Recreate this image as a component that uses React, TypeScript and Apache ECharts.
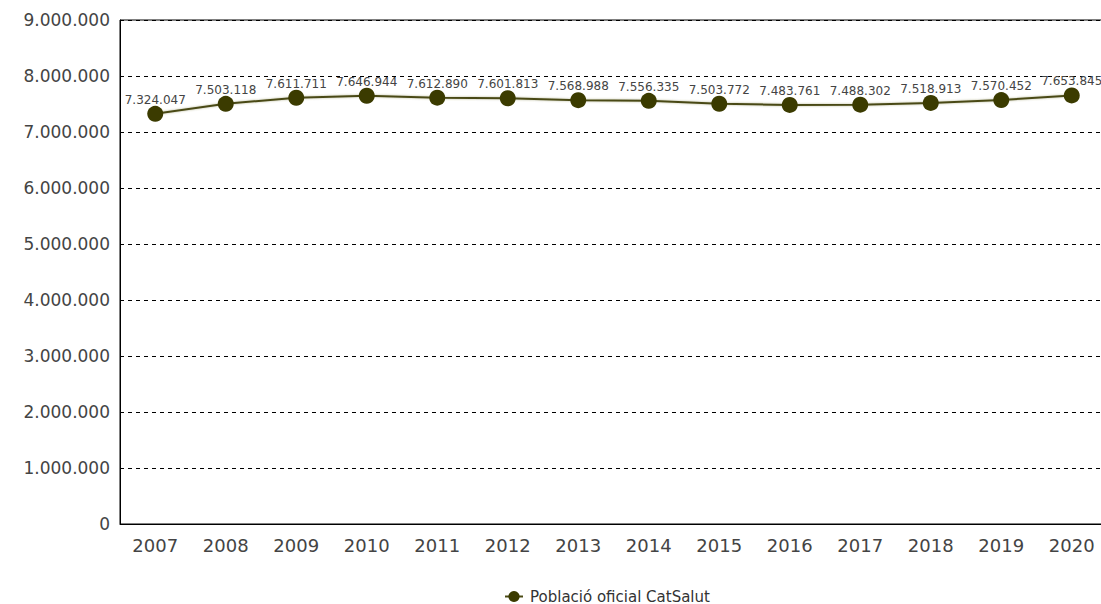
import React, { useEffect, useRef } from "react";
import * as echarts from "echarts";

const years = ["2007","2008","2009","2010","2011","2012","2013","2014","2015","2016","2017","2018","2019","2020"];
const population = [7324047, 7503118, 7611711, 7646944, 7612890, 7601813, 7568988, 7556335, 7503772, 7483761, 7488302, 7518913, 7570452, 7653845];
const seriesName = "Població oficial CatSalut";

const fmt = (v: number) => String(Math.round(v)).replace(/\B(?=(\d{3})+(?!\d))/g, ".");

export default function App() {
  const ref = useRef<HTMLDivElement>(null);
  useEffect(() => {
    if (!ref.current) return;
    const chart = echarts.init(ref.current, null, { renderer: "svg" });
    chart.setOption({
      animation: false,
      backgroundColor: "#fff",
      textStyle: { fontFamily: "DejaVu Sans" },
      grid: { left: 120, top: 20, width: 987, height: 504, show: true, borderColor: "#000", borderWidth: 1, backgroundColor: "transparent" },
      legend: {
        left: 499,
        top: 584,
        itemWidth: 18,
        itemHeight: 14,
        itemGap: 5,
        textStyle: { fontSize: 15, color: "#333", fontFamily: "DejaVu Sans", padding: [0, 0, 0, 2] },
        data: [{ name: seriesName }],
      },
      xAxis: {
        type: "category",
        data: years,
        boundaryGap: true,
        axisLine: { lineStyle: { color: "#000", width: 1 } },
        axisTick: { show: false },
        axisLabel: { fontSize: 18, color: "#444", margin: 12 },
      },
      yAxis: {
        type: "value",
        min: 0,
        max: 9000000,
        interval: 1000000,
        axisLine: { show: true, lineStyle: { color: "#000", width: 1 } },
        axisTick: { show: false },
        axisLabel: { fontSize: 17, color: "#444", margin: 10, formatter: (v: number) => fmt(v) },
        splitLine: { lineStyle: { color: "#000", type: [4, 4], width: 1 } },
      },
      series: [
        {
          name: seriesName,
          type: "line",
          data: population,
          symbol: "circle",
          symbolSize: 16,
          itemStyle: { color: "#3b3b00" },
          lineStyle: { color: "#4a4a14", width: 2, shadowColor: "rgba(120,120,60,0.5)", shadowBlur: 2 },
          label: {
            show: true,
            position: "top",
            distance: 0,
            fontSize: 12,
            color: "#444",
            formatter: (p: any) => fmt(p.value),
          },
        },
      ],
    });
    return () => chart.dispose();
  }, []);
  return (
    <div style={{ position: "fixed", left: 0, top: 0, width: 1101, height: 604, overflow: "hidden", background: "#fff" }}>
      <div ref={ref} style={{ width: 1140, height: 604 }} />
    </div>
  );
}
